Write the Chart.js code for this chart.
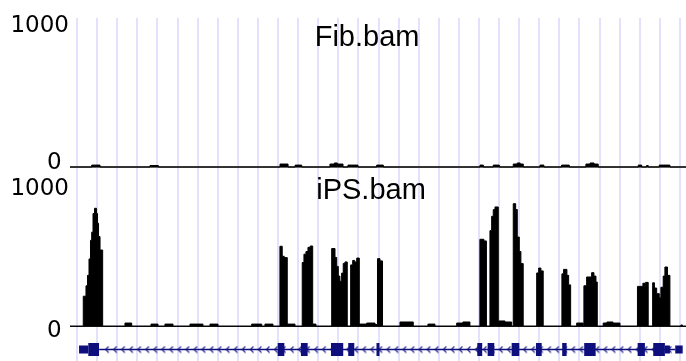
<!DOCTYPE html>
<html>
<head>
<meta charset="utf-8">
<script src="https://cdn.jsdelivr.net/npm/chart.js@4.4.1/dist/chart.umd.min.js"></script>
<style>
html,body{margin:0;padding:0;background:#fff;overflow:hidden}
#wrap{position:relative;width:686px;height:361px}
</style>
</head>
<body>
<div id="wrap"><canvas id="c" width="686" height="361"></canvas></div>
<script>
// ---------------- data ----------------
const trackNames = ['Fib.bam', 'iPS.bam'];
const yTickValues = [0, 1000];
const yTickLabels = ['0', '1000'];

// coverage: breakpoint positions (genome coordinate) and value holding from that position on
const fibPos = [-7, 14.6, 22.9, 72.6, 80.9, 202, 210, 217, 223.6, 251.7, 256, 259, 264.7, 269.6, 279.6,
  298.2, 304.8, 401, 404.3, 414.2, 420.2, 434.1, 438, 441, 444.1, 460.7, 464.6, 482.2, 489.8,
  506.4, 510.5, 514.5, 518.6, 558.5, 561.9, 566.8, 568.4, 579.4, 590, 606];
const fibVal = [0, 13, 0, 10, 0, 20, 0, 13, 0, 20, 27, 20, 0, 13, 0,
  13, 0, 13, 0, 13, 0, 20, 27, 20, 0, 13, 0, 13, 0,
  20, 27, 20, 0, 13, 0, 10, 0, 13, 0, 0];

const ipsPos = [-7, 6.2, 8.9, 10.4, 11.9, 13.4, 14.6, 15.9, 17.4, 19.4, 20.4, 21.4, 22.9, 25.5,
  47.7, 54.4, 73.6, 80.6, 87.5, 95.5, 112.4, 125.3, 132.3, 140.3, 173.8, 183.8, 187, 195,
  201.9, 204.2, 206.2, 209.2, 216.9,
  224.1, 225.8, 227.8, 229.8, 232.1, 234.5, 237.8,
  253.4, 256.7, 258.4, 260, 261.6, 263.3, 264.9, 266.6, 268.9,
  272.3, 274.3, 276.3, 278.3, 280.9, 288.2, 296.5,
  299, 301.5, 304, 321.4, 334.6, 349.2, 356.2, 377.8, 384, 391,
  400.9, 404.9, 407.4, 410.9, 412.6, 414.2, 415.9, 419.2, 425.8, 432.5,
  434.1, 436.5, 438.1, 440.1, 441.7, 444,
  457.4, 459.4, 461.6, 463.9,
  482.5, 484.2, 487.5, 489.2, 491.2, 497.2, 503.7,
  504.4, 507.1, 512.1, 514.4, 516.4, 517.7, 523.6, 527.3, 533.3, 540.3,
  557.7, 563.1, 565.8, 568.4,
  572.8, 574.6, 576.8, 579.4, 581, 583.3, 585, 587.6, 590, 600.9, 602.4, 606];
const ipsVal = [0, 200, 270, 340, 450, 575, 630, 755, 790, 755, 690, 600, 510, 0,
  20, 0, 13, 0, 13, 0, 13, 0, 13, 0, 13, 0, 13, 0,
  535, 468, 459, 13, 0,
  426, 482, 500, 528, 537, 13, 0,
  520, 460, 400, 335, 300, 355, 420, 430, 0,
  410, 440, 430, 456, 13, 20, 10,
  452, 437, 0, 27, 0, 13, 0, 20, 27, 0,
  582, 571, 0, 640, 736, 781, 799, 34, 27, 0,
  821, 782, 597, 500, 419, 0,
  356, 389, 370, 0,
  350, 380, 340, 276, 0, 20, 0,
  270, 329, 358, 335, 295, 0, 20, 27, 20, 0,
  266, 287, 293, 0,
  290, 255, 217, 189, 260, 335, 396, 340, 0, 7, 0, 0];

// gene model (minus strand)
const cdsStart = [11.2, 199.7, 222.8, 252.7, 269.9, 298, 398.3, 408.6, 432.5, 456.7, 482.8, 504.7, 557.9, 573.4];
const cdsEnd   = [21.9, 206.3, 229.5, 264.9, 275.9, 301, 403.2, 415.2, 440.1, 462.4, 487.2, 516.1, 565.1, 585];
const utrStart = [2, 585, 595.3];
const utrEnd   = [11.2, 590, 602.7];
const intronSpan = [22, 595.3];

// ---------------- styling / layout ----------------
const navy = '#0e0e7c';
const geneY = 0.46;
const chevronStep = 8;
const labelShift = { yFib: { 0: -4, 1000: 8.5 }, yIPS: { 0: 5.5, 1000: 12.5 } };

const toPts = (xs, ys) => xs.map((x, i) => ({ x: x, y: ys[i] }));
function segs(starts, ends) {
  const out = [];
  starts.forEach((s, i) => { out.push({ x: s, y: geneY }, { x: ends[i], y: geneY }, { x: ends[i], y: null }); });
  return out;
}
const intronPts = [];
for (let x = intronSpan[0]; x < intronSpan[1]; x += chevronStep) intronPts.push({ x: x, y: geneY });
intronPts.push({ x: intronSpan[1], y: geneY });

// chevron "<" glyph used as point style
const chev = document.createElement('canvas');
chev.width = 6; chev.height = 8;
(function () {
  const g = chev.getContext('2d');
  g.strokeStyle = navy; g.lineWidth = 1.1;
  g.beginPath(); g.moveTo(4.5, 0.8); g.lineTo(1.5, 4); g.lineTo(4.5, 7.2); g.stroke();
})();

function yAxis(id, weight, stackWeight) {
  return {
    type: 'linear', position: 'left', stack: 'tracks', weight: weight, stackWeight: stackWeight,
    min: -67, max: 1000,
    afterBuildTicks: s => { s.ticks = yTickValues.map(v => ({ value: v })); },
    ticks: {
      padding: 1, color: '#000', autoSkip: false,
      callback: (v) => {
        const txt = yTickLabels[yTickValues.indexOf(v)] + (v === 0 ? ' ' : '');
        const sh = labelShift[id][v];
        return sh > 0 ? ['', txt] : [txt, ''];
      },
      font: (ctx) => {
        const v = ctx.tick ? ctx.tick.value : 0;
        const sh = Math.abs(labelShift[id][v] || 0.5);
        return { family: "'DejaVu Sans'", size: 23, lineHeight: (2 * sh) + 'px' };
      }
    },
    grid: {
      drawTicks: false,
      lineWidth: id === 'yFib' ? 2 : 1,
      color: (ctx) => (ctx.tick && ctx.tick.value === 0) ? (id === 'yFib' ? '#666' : '#111') : 'rgba(0,0,0,0)'
    },
    border: { display: false },
    afterFit: s => { s.width = 70; s.paddingTop = 0; s.paddingBottom = 0; }
  };
}

const trackLabelPlugin = {
  id: 'trackLabels',
  afterDatasetsDraw(chart, args, opts) {
    const ctx = chart.ctx, xs = chart.scales.x;
    ctx.save();
    ctx.font = opts.font; ctx.fillStyle = '#000';
    ctx.textAlign = 'left'; ctx.textBaseline = 'alphabetic';
    opts.items.forEach(it => {
      ctx.fillText(it.text, xs.getPixelForValue(it.x), chart.scales[it.axis].getPixelForValue(it.y));
    });
    ctx.restore();
  }
};

new Chart(document.getElementById('c'), {
  type: 'line',
  data: {
    datasets: [
      { label: 'CDS', yAxisID: 'yGene', data: segs(cdsStart, cdsEnd), borderColor: navy, borderWidth: 13,
        borderCapStyle: 'butt', pointRadius: 0, fill: false, spanGaps: false },
      { label: 'UTR', yAxisID: 'yGene', data: segs(utrStart, utrEnd), borderColor: navy, borderWidth: 8,
        borderCapStyle: 'butt', pointRadius: 0, fill: false, spanGaps: false },
      { label: 'intron', yAxisID: 'yGene', data: intronPts, borderColor: navy, borderWidth: 1.5,
        pointStyle: chev, pointRadius: (c) => (c.dataIndex === 0 || c.dataIndex === intronPts.length - 1) ? 0 : 3,
        fill: false },
      { label: trackNames[0], yAxisID: 'yFib', data: toPts(fibPos, fibVal), stepped: true, fill: 'origin',
        backgroundColor: '#000', borderColor: '#000', borderWidth: 1, pointRadius: 0 },
      { label: trackNames[1], yAxisID: 'yIPS', data: toPts(ipsPos, ipsVal), stepped: true, fill: 'origin',
        backgroundColor: '#000', borderColor: '#000', borderWidth: 1, pointRadius: 0 }
    ]
  },
  options: {
    responsive: false, animation: false, devicePixelRatio: 1,
    layout: { padding: { top: 18, left: 0, right: 0, bottom: 0 } },
    plugins: {
      legend: { display: false }, tooltip: { enabled: false },
      trackLabels: {
        font: "29px 'Liberation Sans', Arial, sans-serif",
        items: [
          { text: trackNames[0], axis: 'yFib', x: 236.5, y: 812 },
          { text: trackNames[1], axis: 'yIPS', x: 238, y: 850 }
        ]
      }
    },
    scales: {
      x: {
        type: 'linear', position: 'bottom', min: -7, max: 606,
        ticks: { display: false, stepSize: 20, includeBounds: false },
        grid: { color: 'rgb(226,226,255)', lineWidth: 2, drawTicks: false },
        border: { display: false },
        afterFit: s => { s.height = 0; s.paddingLeft = 0; s.paddingRight = 0; }
      },
      yFib: yAxis('yFib', 3, 159),
      yIPS: yAxis('yIPS', 2, 159),
      yGene: {
        type: 'linear', position: 'left', stack: 'tracks', weight: 1, stackWeight: 25,
        min: 0, max: 1,
        ticks: { display: false }, grid: { display: false }, border: { display: false },
        afterFit: s => { s.width = 70; s.paddingTop = 0; s.paddingBottom = 0; }
      }
    }
  },
  plugins: [trackLabelPlugin]
});
</script>
</body>
</html>
